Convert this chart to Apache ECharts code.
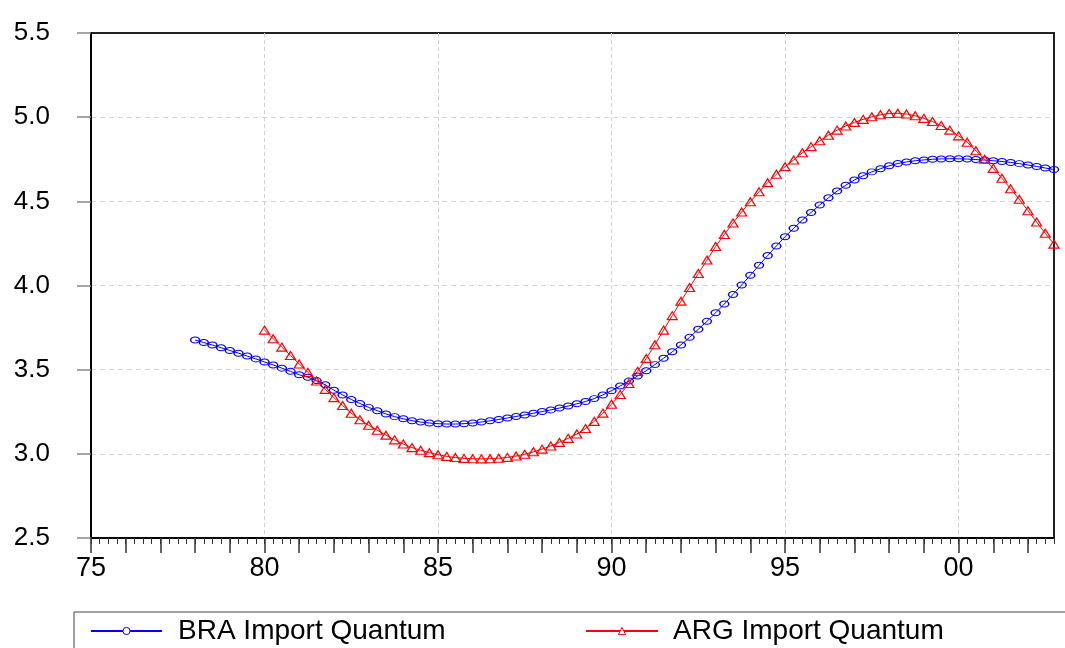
<!DOCTYPE html>
<html>
<head>
<meta charset="utf-8">
<script src="https://cdn.jsdelivr.net/npm/echarts@6/dist/echarts.min.js"></script>
<style>
  html, body { margin: 0; padding: 0; background: #fff; }
  #chart { width: 1065px; height: 648px; }
</style>
</head>
<body>
<div id="chart"></div>
<script>
// quarterly categories 1975Q1 .. 2002Q4
var firstYear = 1975
var lastYear = 2002
var quarters = []
for (var y = firstYear; y <= lastYear; y++) {
  for (var q = 1; q <= 4; q++) {
    quarters.push(y + 'Q' + q)
  }
}

var braName = 'BRA Import Quantum'
var argName = 'ARG Import Quantum'
var braStart = '1978Q1'
var argStart = '1980Q1'

// BRA, 1978Q1 .. 2002Q4
var braValues = [
  3.676, 3.661, 3.646, 3.630, 3.614, 3.598, 3.581, 3.564, // 78-79
  3.546, 3.528, 3.509, 3.490, 3.470, 3.455, 3.435, 3.410, // 80-81
  3.378, 3.350, 3.323, 3.299, 3.276, 3.256, 3.237, 3.221, // 82-83
  3.208, 3.197, 3.189, 3.183, 3.179, 3.177, 3.177, 3.179, // 84-85
  3.183, 3.189, 3.196, 3.204, 3.213, 3.222, 3.231, 3.241, // 86-87
  3.251, 3.261, 3.272, 3.284, 3.297, 3.311, 3.328, 3.350, // 88-89
  3.375, 3.403, 3.432, 3.462, 3.494, 3.530, 3.568, 3.606, // 90-91
  3.647, 3.692, 3.740, 3.787, 3.838, 3.890, 3.947, 4.003, // 92-93
  4.061, 4.120, 4.178, 4.235, 4.290, 4.340, 4.389, 4.434, // 94-95
  4.478, 4.521, 4.561, 4.596, 4.627, 4.652, 4.675, 4.694, // 96-97
  4.711, 4.725, 4.734, 4.741, 4.746, 4.750, 4.752, 4.753, // 98-99
  4.753, 4.751, 4.748, 4.745, 4.741, 4.737, 4.731, 4.724, // 00-01
  4.716, 4.707, 4.698, 4.689                              // 02
]

// ARG, 1980Q1 .. 2002Q4
var argValues = [
  3.735, 3.684, 3.634, 3.584, 3.534, 3.484, 3.433, 3.383, // 80-81
  3.334, 3.287, 3.241, 3.203, 3.170, 3.140, 3.111, 3.083, // 82-83
  3.058, 3.037, 3.021, 3.007, 2.995, 2.985, 2.978, 2.973, // 84-85
  2.971, 2.970, 2.971, 2.974, 2.979, 2.987, 2.998, 3.012, // 86-87
  3.028, 3.047, 3.068, 3.092, 3.118, 3.150, 3.193, 3.242, // 88-89
  3.295, 3.352, 3.418, 3.490, 3.567, 3.648, 3.735, 3.821, // 90-91
  3.907, 3.988, 4.071, 4.151, 4.232, 4.303, 4.371, 4.437, // 92-93
  4.498, 4.557, 4.611, 4.661, 4.706, 4.746, 4.789, 4.825, // 94-95
  4.860, 4.893, 4.923, 4.948, 4.969, 4.987, 5.002, 5.014, // 96-97
  5.022, 5.023, 5.019, 5.008, 4.993, 4.974, 4.950, 4.923, // 98-99
  4.889, 4.851, 4.801, 4.750, 4.696, 4.637, 4.575, 4.512, // 00-01
  4.444, 4.377, 4.310, 4.246                              // 02
]

var yTicks = [2.5, 3.0, 3.5, 4.0, 4.5, 5.0, 5.5]

function padFrom(start, values) {
  var lead = quarters.indexOf(start)
  var out = []
  for (var i = 0; i < lead; i++) out.push(null)
  return out.concat(values)
}

var font = 'Liberation Sans, Arial, Helvetica, sans-serif'
var chart = echarts.init(document.getElementById('chart'), null, { renderer: 'canvas' })

var option = {
  animation: false,
  backgroundColor: '#fff',
  textStyle: { fontFamily: font },
  grid: {
    left: 91,
    right: 11,
    top: 33,
    bottom: 110,
    show: true,
    borderColor: '#222',
    borderWidth: 2,
    backgroundColor: 'transparent'
  },
  legend: [
    {
      data: [braName],
      left: 90,
      top: 617,
      padding: 0,
      itemWidth: 71,
      itemHeight: 9,
      itemStyle: { color: '#fff', borderColor: '#0000ff', borderWidth: 1 },
      textStyle: { fontSize: 28, color: '#000', fontFamily: font, padding: [0, 0, 0, 11] }
    },
    {
      data: [argName],
      left: 585,
      top: 617,
      padding: 0,
      itemWidth: 72,
      itemHeight: 9,
      itemStyle: { color: '#fff', borderColor: '#ff0000', borderWidth: 1 },
      textStyle: { fontSize: 28, color: '#000', fontFamily: font, padding: [0, 0, 0, 10] }
    }
  ],
  graphic: [
    {
      type: 'rect',
      silent: true,
      shape: { x: 74, y: 612, width: 1100, height: 100 },
      style: { fill: 'none', stroke: '#444', lineWidth: 1 }
    }
  ],
  xAxis: [
    {
      type: 'category',
      data: quarters,
      boundaryGap: false,
      axisLine: { lineStyle: { color: '#000', width: 2 } },
      axisTick: { show: true, interval: 0, length: 6, lineStyle: { color: '#333', width: 1 } },
      axisLabel: {
        interval: function (index) { return index % 20 === 0 },
        formatter: function (v) { return v.slice(2, 4) },
        fontSize: 27,
        color: '#000',
        margin: 17,
        fontFamily: font
      },
      splitLine: {
        show: true,
        interval: function (index) { return index % 20 === 0 && index > 0 },
        lineStyle: { color: '#cfcfcf', type: [4, 3], width: 1 }
      }
    },
    {
      type: 'category',
      data: quarters,
      boundaryGap: false,
      position: 'bottom',
      axisLine: { show: false },
      axisTick: {
        show: true,
        interval: function (index) { return index % 4 === 0 },
        length: 15,
        lineStyle: { color: '#333', width: 1.5 }
      },
      axisLabel: { show: false },
      splitLine: { show: false }
    }
  ],
  yAxis: {
    type: 'value',
    min: yTicks[0],
    max: yTicks[yTicks.length - 1],
    interval: 0.5,
    axisLine: { show: true, lineStyle: { color: '#000', width: 2 } },
    axisTick: { show: true, length: 14, lineStyle: { color: '#888', width: 1.5 } },
    axisLabel: {
      formatter: function (v) { return v.toFixed(1) },
      fontSize: 26,
      color: '#000',
      margin: 41,
      fontFamily: font
    },
    splitLine: {
      show: true,
      showMaxLine: false,
      lineStyle: { color: '#d4d4d4', type: [5, 4], width: 1 }
    }
  },
  series: [
    {
      name: braName,
      type: 'line',
      xAxisIndex: 0,
      data: padFrom(braStart, braValues),
      symbol: 'circle',
      symbolSize: [9, 6],
      showSymbol: true,
      showAllSymbol: true,
      lineStyle: { color: '#0000ff', width: 1 },
      itemStyle: { color: 'rgba(0,0,0,0)', borderColor: '#0000ff', borderWidth: 1.2 },
      emphasis: { disabled: true }
    },
    {
      name: argName,
      type: 'line',
      xAxisIndex: 0,
      data: padFrom(argStart, argValues),
      symbol: 'triangle',
      symbolSize: [10, 8],
      showSymbol: true,
      showAllSymbol: true,
      lineStyle: { color: '#ff0000', width: 1 },
      itemStyle: { color: 'rgba(0,0,0,0)', borderColor: '#ff0000', borderWidth: 1.2 },
      emphasis: { disabled: true }
    }
  ]
}

chart.setOption(option)
window.addEventListener('resize', function () {
  chart.resize()
})
</script>
</body>
</html>
